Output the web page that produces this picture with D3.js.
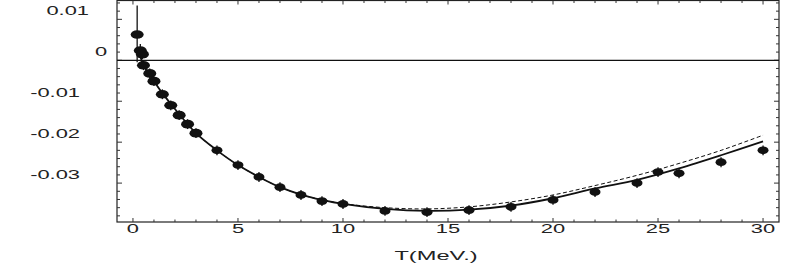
<!DOCTYPE html>
<html>
<head>
<meta charset="utf-8">
<script src="https://cdn.jsdelivr.net/npm/d3@7"></script>
<style>
  body { margin: 0; background: #fff; }
  svg { display: block; font-family: "Liberation Sans", Arial, sans-serif; }
</style>
</head>
<body>
<div class="viz"></div>
<script>
// measured points
const tPoints = [0.2, 0.35, 0.45, 0.5, 0.8, 1.0, 1.4, 1.8, 2.2, 2.6, 3, 4, 5, 6, 7, 8, 9, 10, 12, 14, 16, 18, 20, 22, 24, 25, 26, 28, 30]
const yPoints = [0.0063, 0.0024, 0.0015, -0.0012, -0.0032, -0.0051, -0.0083, -0.0110, -0.0134, -0.0156, -0.0178, -0.0220,
  -0.0256, -0.0285, -0.0310, -0.0329, -0.0344, -0.0351, -0.0368, -0.0371, -0.0366, -0.0358, -0.0341, -0.0322,
  -0.0300, -0.0273, -0.0276, -0.0249, -0.0220]
const yErrUp = [0.0071, 0.0016, 0.0012, 0.0012, 0.0012, 0.0012, 0.0012, 0.0012, 0.0012, 0.0012, 0.0012, 0.0012,
  0.0012, 0.0012, 0.0012, 0.0012, 0.0012, 0.0012, 0.0012, 0.0012, 0.0012, 0.0012, 0.0012, 0.0012,
  0.0012, 0.0012, 0.0012, 0.0012, 0.0012]
const yErrDown = [0.0068, 0.0016, 0.0012, 0.0012, 0.0012, 0.0012, 0.0012, 0.0012, 0.0012, 0.0012, 0.0012, 0.0012,
  0.0012, 0.0012, 0.0012, 0.0012, 0.0012, 0.0012, 0.0012, 0.0012, 0.0012, 0.0012, 0.0012, 0.0012,
  0.0012, 0.0012, 0.0012, 0.0012, 0.0012]

// theory curves (solid and dashed)
const tCurve = [0.3, 0.5, 1, 1.5, 2, 3, 4, 5, 6, 7, 8, 9, 10, 12, 14, 16, 18, 20, 22, 24, 26, 28, 30]
const ySolid = [0.0022, -0.0012, -0.0051, -0.0087, -0.0119, -0.0178, -0.0220, -0.0256, -0.0285, -0.0310, -0.0328,
  -0.0341, -0.0351, -0.0363, -0.0368, -0.0365, -0.0355, -0.0337, -0.0313, -0.0292, -0.0264, -0.0232, -0.0198]
const yDashed = [0.0022, -0.0012, -0.0051, -0.0087, -0.0119, -0.0178, -0.0220, -0.0256, -0.0285, -0.0310, -0.0328,
  -0.0341, -0.0350, -0.0360, -0.0363, -0.0358, -0.0346, -0.0329, -0.0306, -0.0281, -0.0252, -0.0220, -0.0183]

const xTicks = [0, 5, 10, 15, 20, 25, 30]
const xTickLabels = ['0', '5', '10', '15', '20', '25', '30']
const yTicks = [0.01, 0, -0.01, -0.02, -0.03]
const yTickLabels = ['0.01', '0', '-0.01', '-0.02', '-0.03']
const xTitle = 'T(MeV.)'

const width = 811, height = 272
const plotLeft = 117, plotRight = 779, plotTop = 0.5, plotBottom = 222
const stretch = 1.75

const svg = d3.select('.viz').append('svg')
  .attr('width', width)
  .attr('height', height)

const x = d3.scaleLinear().domain([-0.76, 30.76]).range([plotLeft, plotRight])
const y = d3.scaleLinear().domain([-0.0395, 0.0146]).range([plotBottom, plotTop])

// frame
svg.append('rect')
  .attr('x', plotLeft).attr('y', plotTop)
  .attr('width', plotRight - plotLeft).attr('height', plotBottom - plotTop)
  .attr('fill', 'none').attr('stroke', '#222').attr('stroke-width', 1.2)

// ticks, all pointing inward
const minorX = d3.range(0, 31, 1)
const minorY = d3.range(-0.038, 0.0141, 0.002)
const tickG = svg.append('g').attr('stroke', '#333').attr('stroke-width', 1)
minorX.forEach(v => {
  const len = v % 5 === 0 ? 4 : 2.5
  tickG.append('line').attr('x1', x(v)).attr('x2', x(v)).attr('y1', plotBottom).attr('y2', plotBottom - len)
  tickG.append('line').attr('x1', x(v)).attr('x2', x(v)).attr('y1', plotTop).attr('y2', plotTop + len)
})
minorY.forEach(v => {
  const major = Math.abs(Math.round(v * 100) - v * 100) < 1e-6
  const len = major ? 5 : 3
  tickG.append('line').attr('x1', plotLeft).attr('x2', plotLeft + len).attr('y1', y(v)).attr('y2', y(v))
  tickG.append('line').attr('x1', plotRight).attr('x2', plotRight - len).attr('y1', y(v)).attr('y2', y(v))
})

// zero line
svg.append('line')
  .attr('x1', plotLeft).attr('x2', plotRight)
  .attr('y1', y(0)).attr('y2', y(0))
  .attr('stroke', '#111').attr('stroke-width', 1.2)

// widen text like the original print
function widen(sel) {
  sel.each(function() {
    const w = this.getComputedTextLength()
    d3.select(this).attr('textLength', w * stretch).attr('lengthAdjust', 'spacingAndGlyphs')
  })
}

// x tick labels
svg.append('g').selectAll('text')
  .data(xTicks).enter().append('text')
  .attr('x', d => x(d))
  .attr('y', plotBottom + 10.5)
  .attr('text-anchor', 'middle')
  .attr('font-size', 12.5)
  .attr('fill', '#222')
  .text((d, i) => xTickLabels[i])
  .call(widen)

// y tick labels (sit a little above their ticks, as in the original)
svg.append('g').selectAll('text')
  .data(yTicks).enter().append('text')
  .attr('x', (d, i) => yTickLabels[i] === '0' ? 101 : (yTickLabels[i][0] === '-' ? 80 : 89))
  .attr('y', d => y(d) - 4.5)
  .attr('text-anchor', (d, i) => yTickLabels[i] === '0' ? 'middle' : 'end')
  .attr('font-size', 12.5)
  .attr('fill', '#222')
  .text((d, i) => yTickLabels[i])
  .call(widen)

svg.append('text')
  .attr('x', 436)
  .attr('y', 260)
  .attr('text-anchor', 'middle')
  .attr('font-size', 13.5)
  .attr('fill', '#222')
  .text(xTitle)
  .call(widen)

// curves
const solidData = tCurve.map((t, i) => [t, ySolid[i]])
const dashedData = tCurve.map((t, i) => [t, yDashed[i]])
const line = d3.line().x(d => x(d[0])).y(d => y(d[1])).curve(d3.curveCatmullRom)

svg.append('path')
  .attr('d', line(dashedData))
  .attr('fill', 'none').attr('stroke', '#111').attr('stroke-width', 1)
  .attr('stroke-dasharray', '4,2.5')

svg.append('path')
  .attr('d', line(solidData))
  .attr('fill', 'none').attr('stroke', '#111').attr('stroke-width', 1.8)

// data points with error bars
const pts = tPoints.map((t, i) => ({ t, v: yPoints[i], up: yErrUp[i], down: yErrDown[i] }))
const g = svg.append('g').selectAll('g')
  .data(pts).enter().append('g')

g.append('line')
  .attr('x1', d => x(d.t)).attr('x2', d => x(d.t))
  .attr('y1', d => y(d.v + d.up)).attr('y2', d => y(d.v - d.down))
  .attr('stroke', '#111').attr('stroke-width', 1.3)

g.append('ellipse')
  .attr('cx', d => x(d.t)).attr('cy', d => y(d.v))
  .attr('rx', d => d.t < 3.5 ? 6.5 : 5.5)
  .attr('ry', d => d.t < 3.5 ? 4.3 : 3.9)
  .attr('fill', '#111')
</script>
</body>
</html>
